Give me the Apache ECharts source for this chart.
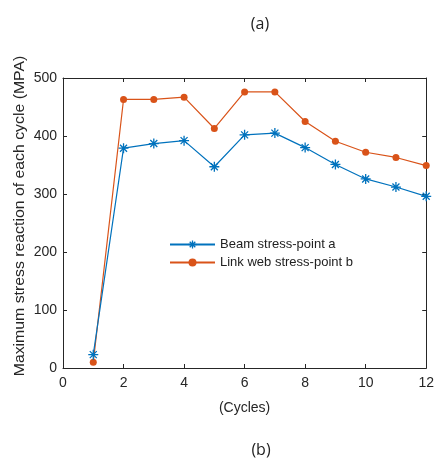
<!DOCTYPE html>
<html><head><meta charset="utf-8">
<script src="https://cdn.jsdelivr.net/npm/echarts@6/dist/echarts.min.js"></script>
<style>html,body{margin:0;padding:0;background:#fff}#c{width:437px;height:459px}</style>
</head><body><div id="c"></div>
<script>
const cycles = [1,2,3,4,5,6,7,8,9,10,11,12];
const beamA = [23,379,387,392,347,402,405,380,351,326,312,296];
const linkB = [10,463,463,467,413,476,476,425,391,372,363,349];
const xTicks = [0,2,4,6,8,10,12];
const yTicks = [0,100,200,300,400,500];
const seriesNames = ['Beam stress-point a','Link web stress-point b'];
const yName = 'Maximum stress reaction of each cycle (MPA)';

const ast = 'path://M0 5 L10 5 M5 0 L5 10 M1.5 1.5 L8.5 8.5 M8.5 1.5 L1.5 8.5';
const font = 'Liberation Sans';
const chart = echarts.init(document.getElementById('c'));
const tickStyle = {show:true, inside:true, length:4, lineStyle:{color:'#262626',width:1}};
const lineStyle = {show:true, onZero:false, lineStyle:{color:'#262626',width:1}};
chart.setOption({
  animation:false,
  textStyle:{fontFamily:font},
  graphic:[
    {type:'text', x:260, y:24, style:{text:'(a)', font:'16px "Open Sans"', fill:'#222', align:'center', verticalAlign:'middle'}},
    {type:'text', x:261, y:450, style:{text:'(b)', font:'16px "Open Sans"', fill:'#222', align:'center', verticalAlign:'middle'}},
    {type:'text', x:20, y:216, rotation:Math.PI/2, scaleX:1.13, scaleY:1,
     style:{text:yName, font:'14px "Liberation Sans"', fill:'#262626', align:'center', verticalAlign:'middle'}}
  ],
  grid:{left:63, right:8, top:78, bottom:91},
  legend:{
    left:164, top:233, orient:'vertical', itemGap:5, itemWidth:45, itemHeight:10,
    textStyle:{fontFamily:font, fontSize:13, color:'#222'},
    data:[
      {name:seriesNames[0], itemStyle:{color:'#0072BD', borderColor:'#0072BD', borderWidth:1.3}},
      {name:seriesNames[1]}
    ]
  },
  xAxis:[{
    type:'value', min:0, max:12, interval:2,
    name:'(Cycles)', nameLocation:'middle', nameGap:33,
    nameTextStyle:{fontFamily:font, fontSize:14, color:'#262626'},
    axisLine:lineStyle, axisTick:tickStyle, splitLine:{show:false},
    axisLabel:{fontFamily:font, fontSize:14, color:'#262626', margin:8,
      formatter:v=>xTicks.includes(v)?String(v):''}
  },{
    type:'value', min:0, max:12, interval:2, position:'top',
    axisLine:lineStyle, axisTick:tickStyle, axisLabel:{show:false}, splitLine:{show:false}
  }],
  yAxis:[{
    type:'value', min:0, max:500, interval:100,
    axisLine:lineStyle, axisTick:tickStyle, splitLine:{show:false},
    axisLabel:{fontFamily:font, fontSize:14, color:'#262626', margin:6,
      formatter:v=>yTicks.includes(v)?String(v):''}
  },{
    type:'value', min:0, max:500, interval:100, position:'right',
    axisLine:lineStyle, axisTick:tickStyle, axisLabel:{show:false}, splitLine:{show:false}
  }],
  series:[{
    name:seriesNames[0], type:'line',
    data:cycles.map((c,i)=>[c,beamA[i]]),
    symbol:ast, symbolSize:10,
    lineStyle:{color:'#0072BD', width:1.2},
    itemStyle:{color:'#0072BD', borderColor:'#0072BD', borderWidth:1.3},
    z:3
  },{
    name:seriesNames[1], type:'line',
    data:cycles.map((c,i)=>[c,linkB[i]]),
    symbol:'circle', symbolSize:7,
    lineStyle:{color:'#D95319', width:1.2},
    itemStyle:{color:'#D95319', borderWidth:0},
    z:2
  }]
});
</script></body></html>
